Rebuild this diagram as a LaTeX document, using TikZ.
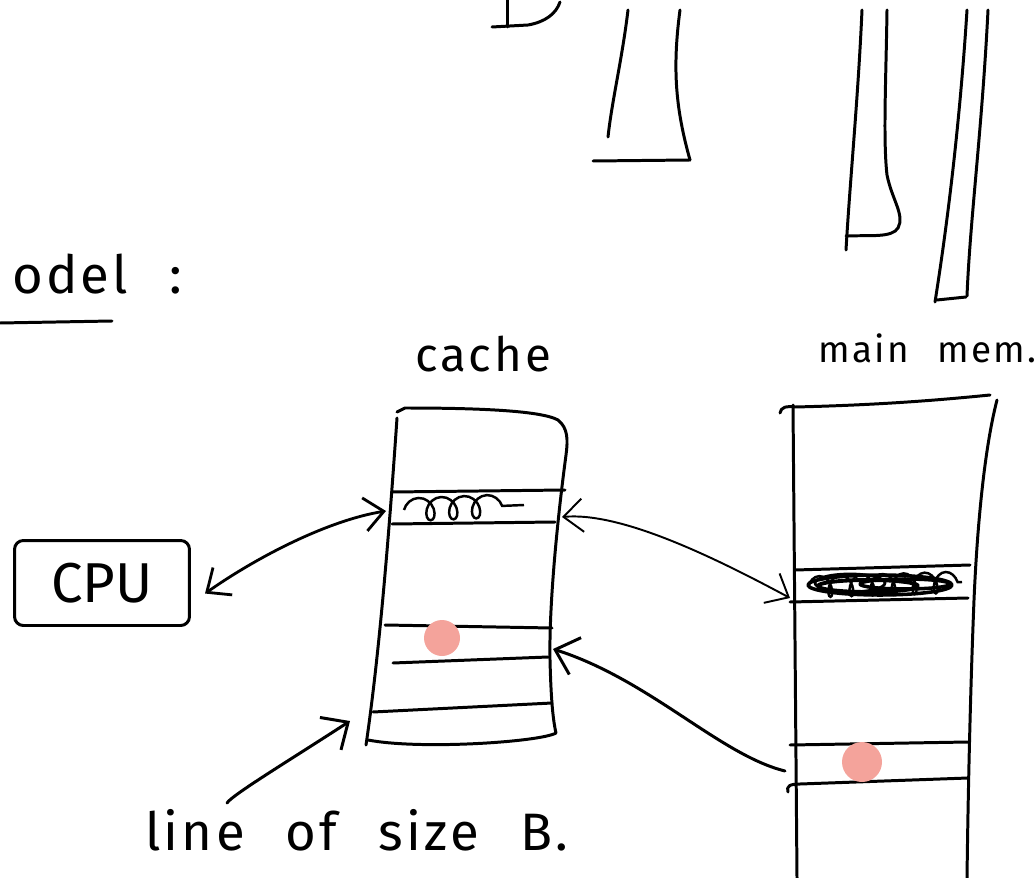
\documentclass[tikz,border=0pt]{standalone}
\usepackage{fontspec}
\setmainfont{Fira Sans}
\newfontfamily\handfont[WordSpace=2.4,LetterSpace=6]{Fira Sans}
\usetikzlibrary{arrows.meta,decorations.pathmorphing,positioning}
\definecolor{Ink}{HTML}{000000}
\definecolor{Dot}{HTML}{F4A39B}

\begin{document}
\begin{tikzpicture}[x=0.02cm,y=-0.02cm,
    ink/.style={draw=Ink,line width=1.7pt,line cap=round,line join=round},
    thin/.style={draw=Ink,line width=1.1pt,line cap=round,line join=round},
    hand/.style={font=\handfont\fontsize{30}{34}\selectfont,inner sep=0pt},
    arr/.style={ink,-{Straight Barb[length=12pt,width=22pt]}},
    biarr/.style={thin,{Straight Barb[length=11pt,width=19pt]}-{Straight Barb[length=11pt,width=19pt]}},
    scrib/.style={draw=Ink,line width=1.4pt,decorate,decoration={coil,amplitude=6.5pt,segment length=13pt,aspect=0.8}},
    dot/.style={fill=Dot,draw=none}]
  \useasboundingbox (0,0) rectangle (1034,878);

  % leftovers of the previous sketch
  \draw[ink] (507,0) -- (507,27);
  \draw[ink] (492,27) -- (528,25) .. controls (545,22) and (556,14) .. (560,2);
  \draw[ink] (628,10) .. controls (622,60) and (612,100) .. (608,137);
  \draw[ink] (680,10) .. controls (672,70) and (676,110) .. (690,160);
  \draw[ink] (593,161) -- (690,160);
  \draw[ink] (862,10) .. controls (858,100) and (850,180) .. (846,250);
  \draw[ink] (887,10) .. controls (886,80) and (883,140) .. (887,175)
    .. controls (892,200) and (905,215) .. (898,228) .. controls (892,238) and (870,235) .. (846,236);
  \draw[ink] (967,10) .. controls (960,120) and (948,220) .. (935,302);
  \draw[ink] (988,10) .. controls (982,130) and (970,220) .. (967,296);
  \draw[ink] (937,300) -- (966,297);

  % heading
  \node[hand,anchor=base west] (model) at (12,294) {odel :};
  \draw[ink] (0,323) -- (112,321);

  % cache
  \node[hand,font=\handfont\fontsize{27}{30}\selectfont,anchor=base] (cachelbl) at (483,372) {cache};
  \draw[ink] (397,418) .. controls (390,520) and (380,650) .. (366,745);
  \draw[ink] (397,412) -- (405,408) .. controls (470,408) and (540,410) .. (558,420)
    .. controls (568,428) and (568,440) .. (566,455)
    .. controls (556,530) and (549,610) .. (550,660)
    .. controls (551,700) and (553,720) .. (556,733)
    .. controls (540,742) and (420,750) .. (368,740);
  \draw[ink] (392,492) -- (565,490);
  \draw[ink] (392,524) -- (555,522);
  \draw[scrib] (404,510) -- (524,505);
  \draw[ink] (385,625) -- (552,628);
  \draw[ink] (393,663) -- (548,657);
  \draw[ink] (373,712) -- (552,703);
  \fill[dot] (442,638) circle (18);
  \coordinate (cachetop) at (386,511);
  \coordinate (cacheout) at (562,517);
  \coordinate (cachein) at (553,649);
  \coordinate (cachebot) at (350,721);

  % main memory
  \node[hand,font=\handfont\fontsize{21}{24}\selectfont,anchor=base west] (memlbl) at (818,362) {main mem.};
  \draw[ink] (793,405) -- (797,878);
  \draw[ink] (780,413) .. controls (781,407) and (786,406) .. (795,407)
    .. controls (880,405) and (940,400) .. (990,395);
  \draw[ink] (997,400) .. controls (984,450) and (977,530) .. (974,600)
    .. controls (970,700) and (968,800) .. (967,878);
  \draw[ink] (795,570) -- (970,565);
  \draw[ink] (790,602) -- (968,598);
  \draw[scrib,decoration={coil,amplitude=6pt,segment length=12pt,aspect=0.6}] (808,587) -- (962,582);
  \draw[ink,line width=2pt] (880,585) ellipse (72 and 10);
  \draw[ink,line width=2.2pt] (868,586) ellipse (50 and 6);
  \draw[ink,line width=2pt] (905,584) ellipse (45 and 5);
  \draw[ink,line width=1.6pt] (850,583) ellipse (35 and 9);
  \draw[ink] (790,745) -- (968,742);
  \draw[ink] (788,792) .. controls (786,786) and (790,784) .. (800,784) -- (968,778);
  \fill[dot] (862,762) circle (20);
  \coordinate (memrow) at (790,598);
  \coordinate (memdot) at (785,771);

  % cpu
  \node[ink,rounded corners=5pt,minimum width=3.5cm,minimum height=1.7cm,
    hand,font=\fontsize{32}{36}\selectfont] (cpu) at (102,583) {CPU};

  % transfers
  \draw[biarr,line width=1.6pt] ([xshift=8pt,yshift=-6pt]cpu.east) .. controls (260,555) and (330,520) .. (cachetop);
  \draw[biarr] (cacheout) .. controls (620,512) and (710,555) .. (memrow);
  \draw[arr] (memdot) .. controls (720,755) and (650,680) .. (cachein);

  % block size
  \node[hand,anchor=base west] (sizelbl) at (145,850) {line of size B.};
  \coordinate (sizetail) at (227,803);
  \draw[arr] (sizetail) .. controls (232,795) and (290,760) .. (cachebot);
\end{tikzpicture}
\end{document}
